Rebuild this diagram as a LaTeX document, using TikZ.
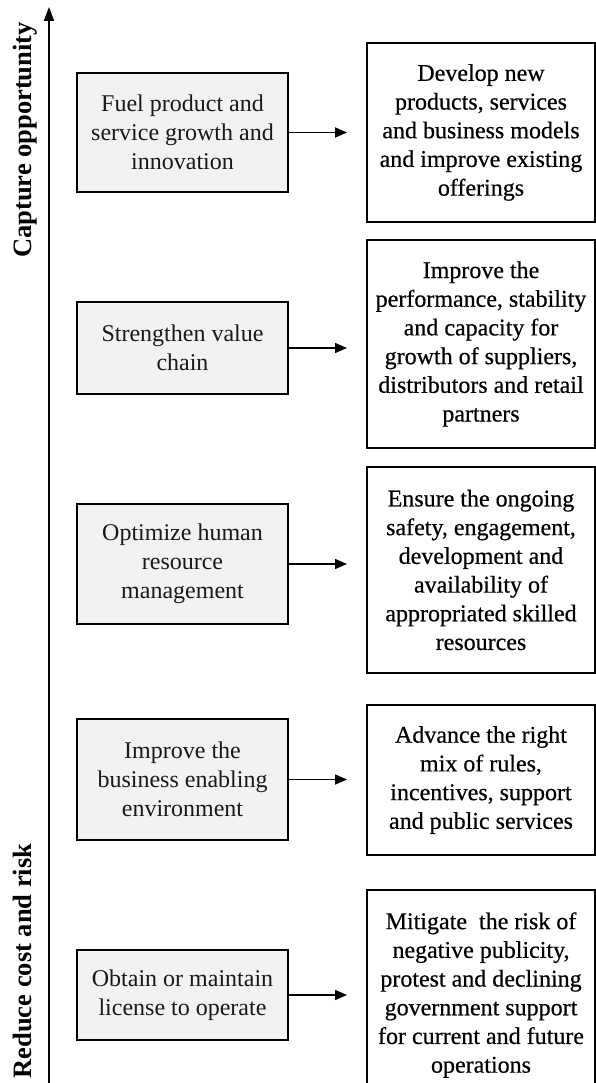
\documentclass[tikz,border=0pt]{standalone}
\usepackage{fontspec}
\setmainfont{Liberation Serif}
\newfontfamily\outfont[FakeBold=0.5]{Liberation Serif}
\usetikzlibrary{arrows.meta}
\begin{document}
\begin{tikzpicture}[x=1pt,y=-1pt,
  leftbox/.style={draw=black, line width=2pt, fill=black!5, minimum width=211pt,
    inner sep=0pt, align=center, text=black!90, font=\fontsize{24}{29}\selectfont},
  rightbox/.style={draw=black, line width=2pt, fill=white, minimum width=228pt,
    inner sep=0pt, align=center, text=black, font=\outfont\fontsize{24}{28.7}\selectfont},
  link/.style={line width=1.5pt, -{Triangle[length=12pt,width=10pt]}, shorten >=19pt},
  axislabel/.style={rotate=90, anchor=base, font=\bfseries\fontsize{26.5}{30}\selectfont}]
\useasboundingbox (0,0) rectangle (596,1083);
\clip (0,0) rectangle (596,1083);

% vertical axis
\coordinate (axbot) at (49,1090);
\coordinate (axtop) at (49,7);
\draw[line width=2pt, -{Triangle[length=14pt,width=10pt]}] (axbot) -- (axtop);
\node[axislabel] (cap) at (31,140) {Capture opportunity};
\node[axislabel] (red) at (31,961) {Reduce cost and risk};

% drivers
\node[leftbox, minimum height=119pt] (l1) at (182.5,132.5) {Fuel product and\\service growth and\\innovation};
\node[leftbox, minimum height=92pt]  (l2) at (182.5,348)   {Strengthen value\\chain};
\node[leftbox, minimum height=120pt] (l3) at (182.5,564)   {Optimize human\\resource\\management};
\node[leftbox, minimum height=121pt] (l4) at (182.5,779.5) {Improve the\\business enabling\\environment};
\node[leftbox, minimum height=90pt]  (l5) at (182.5,995)   {Obtain or maintain\\license to operate};

% outcomes
\node[rightbox, minimum height=179pt] (r1) at (481,132.5) {Develop new\\products, services\\and business models\\and improve existing\\offerings};
\node[rightbox, minimum height=208pt] (r2) at (481,344) {Improve the\\performance, stability\\and capacity  for\\growth of suppliers,\\distributors and retail\\partners};
\node[rightbox, minimum height=206pt] (r3) at (481,570) {Ensure the ongoing\\safety, engagement,\\development and\\availability of\\appropriated skilled\\resources};
\node[rightbox, minimum height=150pt] (r4) at (481,780) {Advance the right\\mix of rules,\\incentives, support\\and public services};
\node[rightbox, minimum height=210pt] (r5) at (481,995) {Mitigate\ \ the risk of\\negative publicity,\\protest and declining\\government support\\for current and future\\operations};

% links
\draw[link, line width=1.8pt] (l1.east) -- (l1.east -| r1.west);
\draw[link] (l2.east) -- (l2.east -| r2.west);
\draw[link] (l3.east) -- (l3.east -| r3.west);
\draw[link] (l4.east) -- (l4.east -| r4.west);
\draw[link] (l5.east) -- (l5.east -| r5.west);
\end{tikzpicture}
\end{document}
